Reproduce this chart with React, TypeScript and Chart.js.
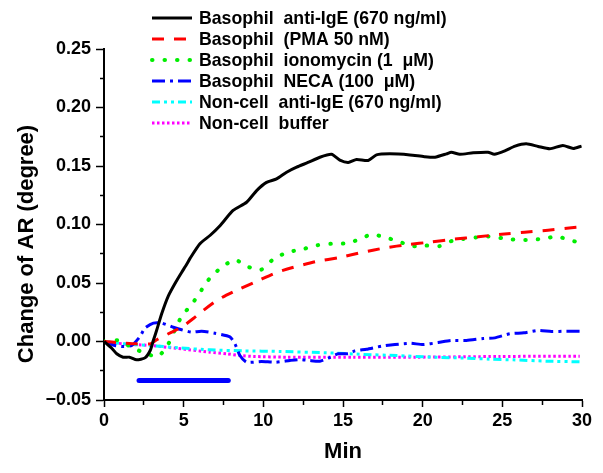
import React, { useEffect, useRef } from 'react';
import { Chart, registerables } from 'chart.js';

Chart.register(...registerables);

const FONT = '"Liberation Sans", Arial, sans-serif';

// ---- Data (minutes, degree) ----
const antiIgETime = [0, 0.5, 0.8, 1.2, 1.6, 2.05, 2.57, 2.9, 3.1, 3.3, 3.62, 4.04, 4.56, 4.87, 5.19, 5.4, 6.02, 6.65, 7.28, 8.1, 8.95, 9.58, 10.2, 10.83, 11.46, 12.09, 12.8, 13.55, 14.28, 14.8, 15.33, 15.85, 16.58, 17.1, 17.94, 19.2, 20.1, 20.77, 21.5, 21.8, 22.33, 23.17, 24.1, 24.5, 25.16, 25.8, 26.5, 27.25, 27.98, 28.8, 29.45, 29.97];
const antiIgEValue = [0, -0.006, -0.0105, -0.0134, -0.0134, -0.0157, -0.014, -0.0077, 0.001, 0.0094, 0.0237, 0.039, 0.052, 0.059, 0.066, 0.071, 0.0835, 0.0906, 0.099, 0.112, 0.119, 0.129, 0.136, 0.139, 0.1447, 0.149, 0.153, 0.1575, 0.16, 0.155, 0.153, 0.1555, 0.1547, 0.1595, 0.1604, 0.1595, 0.158, 0.1575, 0.1604, 0.1618, 0.16, 0.1613, 0.1618, 0.16, 0.163, 0.167, 0.169, 0.1667, 0.1647, 0.1675, 0.165, 0.167];

const pmaTime = [0, 1, 2, 2.9, 3.4, 4.25, 4.87, 5.71, 6.23, 7.07, 7.6, 8.53, 9.79, 10.83, 11.78, 13.34, 14.8, 16.27, 17.63, 19.1, 20.45, 21.9, 23.5, 24.95, 26.4, 27.87, 29.34, 30];
const pmaValue = [0, -0.001, -0.002, -0.002, 0.0023, 0.008, 0.0122, 0.0208, 0.0265, 0.035, 0.039, 0.045, 0.0527, 0.059, 0.063, 0.0684, 0.0718, 0.0764, 0.08, 0.0829, 0.0849, 0.0874, 0.0895, 0.0917, 0.0934, 0.0951, 0.0972, 0.098];

const ionoTime = [0, 0.9, 1.74, 2.57, 3.4, 4.04, 4.45, 4.87, 5.56, 6.13, 6.69, 7.44, 8.22, 9.05, 9.85, 10.58, 11.42, 11.71, 12.55, 13.4, 14.26, 15.1, 15.96, 16.77, 17.61, 18.49, 19.32, 20.2, 21.06, 21.9, 22.75, 23.34, 24.15, 25.0, 25.85, 26.7, 27.56, 28.4, 29.28, 29.9];
const ionoValue = [0, 0.001, -0.005, -0.01, -0.0128, -0.002, 0.01, 0.0214, 0.0328, 0.0442, 0.055, 0.064, 0.0698, 0.0638, 0.0613, 0.0698, 0.076, 0.0769, 0.0792, 0.0823, 0.0835, 0.0838, 0.0869, 0.0915, 0.0892, 0.0855, 0.0815, 0.082, 0.0815, 0.0863, 0.088, 0.0889, 0.0897, 0.0883, 0.0869, 0.0869, 0.0878, 0.0897, 0.0866, 0.084];

const necaTime = [0, 0.69, 1.21, 1.74, 2.26, 2.57, 3.1, 3.62, 4.35, 4.87, 5.5, 6.13, 6.96, 7.9, 8.22, 8.53, 8.95, 9.89, 10.79, 11.67, 12.3, 12.88, 13.55, 14.07, 14.7, 15.33, 15.75, 16.48, 17.42, 18.26, 19.2, 20.03, 20.97, 21.81, 22.75, 23.8, 24.53, 25.47, 26.35, 27.25, 28.09, 29.03, 29.9];
const necaValue = [0, -0.0034, -0.0043, -0.0034, 0.0043, 0.0114, 0.0157, 0.0157, 0.0122, 0.01, 0.008, 0.0088, 0.0071, 0.004, -0.002, -0.012, -0.0177, -0.0171, -0.0177, -0.0162, -0.0154, -0.0162, -0.0168, -0.0142, -0.0105, -0.0105, -0.008, -0.0066, -0.004, -0.0026, -0.0015, -0.0026, -0.0009, 0.0009, 0.0009, 0.0026, 0.0031, 0.0066, 0.0074, 0.0094, 0.0085, 0.0088, 0.0088];

const nonCellIgETime = [0, 1.21, 2.9, 4.66, 6.65, 8.74, 11.04, 13.97, 16.27, 18.36, 20.66, 22.75, 24.2, 25.68, 27.77, 29.86];
const nonCellIgEValue = [0, -0.002, -0.0034, -0.0054, -0.0071, -0.008, -0.0085, -0.0097, -0.011, -0.012, -0.0134, -0.0142, -0.0151, -0.0157, -0.0168, -0.0174];

const bufferTime = [0, 1.21, 2.9, 4.66, 6.65, 7.7, 8.53, 9.37, 11.46, 15.64, 19.6, 24.84, 29.86];
const bufferValue = [0, -0.002, -0.0034, -0.006, -0.0091, -0.0105, -0.012, -0.0128, -0.0134, -0.0134, -0.0134, -0.0128, -0.0125];

// stimulation bar
const barTime = [2.2, 7.8];
const barValue = [-0.0333, -0.0333];

const legendLabels = [
  'Basophil  anti-IgE (670 ng/ml)',
  'Basophil  (PMA 50 nM)',
  'Basophil  ionomycin (1  μM)',
  'Basophil  NECA (100  μM)',
  'Non-cell  anti-IgE (670 ng/ml)',
  'Non-cell  buffer',
];

const xMajorTicks = [0, 5, 10, 15, 20, 25, 30];
const xTickLabels = ['0', '5', '10', '15', '20', '25', '30'];
const yMajorTicks = [-0.05, 0, 0.05, 0.1, 0.15, 0.2, 0.25];
const yTickLabels = ['−0.05', '0.00', '0.05', '0.10', '0.15', '0.20', '0.25'];

const xTitle = 'Min';
const yTitle = 'Change of AR (degree)';

const toPoints = (t: number[], v: number[]) => t.map((x, i) => ({ x, y: v[i] }));

const findLabel = (val: number, majors: number[], labels: string[]) => {
  const idx = majors.findIndex((m) => Math.abs(m - val) < 1e-6);
  return idx >= 0 ? labels[idx] : '';
};
const isMajor = (val: number, majors: number[]) => majors.some((m) => Math.abs(m - val) < 1e-6);

const legendPlugin = {
  id: 'customLegend',
  afterDraw(chart: any) {
    const ctx = chart.ctx;
    ctx.save();
    ctx.font = `bold 17.7px ${FONT}`;
    ctx.textBaseline = 'middle';
    ctx.textAlign = 'left';
    legendLabels.forEach((label, i) => {
      const ds = chart.data.datasets[i];
      const y = 19 + i * 21;
      ctx.strokeStyle = ds.borderColor;
      ctx.lineWidth = ds.borderWidth;
      ctx.setLineDash(ds.borderDash || []);
      ctx.lineCap = ds.borderCapStyle || 'butt';
      ctx.beginPath();
      ctx.moveTo(152, y - 1);
      ctx.lineTo(192, y - 1);
      ctx.stroke();
      ctx.setLineDash([]);
      ctx.fillStyle = '#000';
      ctx.fillText(label, 199, y);
    });
    // y axis title
    ctx.save();
    ctx.translate(27, 244);
    ctx.rotate(-Math.PI / 2);
    ctx.font = `bold 22px ${FONT}`;
    ctx.textAlign = 'center';
    ctx.textBaseline = 'middle';
    ctx.fillStyle = '#000';
    ctx.fillText(yTitle, 0, 0);
    ctx.restore();
    ctx.restore();
  },
};

export default function App() {
  const canvasRef = useRef<HTMLCanvasElement | null>(null);

  useEffect(() => {
    if (!canvasRef.current) return;
    const common = { pointRadius: 0, fill: false, tension: 0.2 };
    const chart = new Chart(canvasRef.current, {
      type: 'line',
      data: {
        datasets: [
          { ...common, label: legendLabels[0], data: toPoints(antiIgETime, antiIgEValue), borderColor: '#000000', borderWidth: 3, borderDash: [] },
          { ...common, label: legendLabels[1], data: toPoints(pmaTime, pmaValue), borderColor: '#ff0000', borderWidth: 3, borderDash: [12, 10] },
          { ...common, label: legendLabels[2], data: toPoints(ionoTime, ionoValue), borderColor: '#00ee00', borderWidth: 4, borderDash: [0.5, 12], borderCapStyle: 'round' },
          { ...common, label: legendLabels[3], data: toPoints(necaTime, necaValue), borderColor: '#0000ff', borderWidth: 3, borderDash: [13, 5, 3, 5] },
          { ...common, label: legendLabels[4], data: toPoints(nonCellIgETime, nonCellIgEValue), borderColor: '#00ffff', borderWidth: 3, borderDash: [8, 4, 3, 4, 3, 4] },
          { ...common, label: legendLabels[5], data: toPoints(bufferTime, bufferValue), borderColor: '#ff00ff', borderWidth: 3, borderDash: [2.5, 2.5] },
          { ...common, label: 'stimulation', data: toPoints(barTime, barValue), borderColor: '#0000ff', borderWidth: 5, borderDash: [], borderCapStyle: 'round' },
        ],
      },
      options: {
        responsive: false,
        animation: false,
        layout: { padding: { top: 49, right: 21, left: 0, bottom: 0 } },
        plugins: { legend: { display: false }, tooltip: { enabled: false } },
        scales: {
          x: {
            type: 'linear',
            min: 0,
            max: 30,
            afterFit: (s: any) => { s.height = 73; },
            border: { display: true, color: '#000', width: 2 },
            grid: {
              display: true,
              drawOnChartArea: false,
              drawTicks: true,
              tickLength: 7,
              color: '#000',
              tickColor: '#000',
              tickWidth: 1.5,
              tickBorderDash: (ctx: any) => (ctx.tick && isMajor(ctx.tick.value, xMajorTicks) ? [] : [4, 100]),
            },
            ticks: {
              stepSize: 2.5,
              autoSkip: false,
              maxRotation: 0,
              padding: 3,
              color: '#000',
              font: { family: FONT, size: 18, weight: 'bold' },
              callback: (v: any) => findLabel(Number(v), xMajorTicks, xTickLabels),
            },
            title: {
              display: true,
              text: xTitle,
              color: '#000',
              font: { family: FONT, size: 22, weight: 'bold' },
              padding: { top: 0, bottom: 8 },
            },
          },
          y: {
            type: 'linear',
            min: -0.05,
            max: 0.25,
            afterFit: (s: any) => { s.width = 104; },
            border: { display: true, color: '#000', width: 2 },
            grid: {
              display: true,
              drawOnChartArea: false,
              drawTicks: true,
              tickLength: 8,
              color: '#000',
              tickColor: '#000',
              tickWidth: 1.5,
              tickBorderDash: (ctx: any) => (ctx.tick && isMajor(ctx.tick.value, yMajorTicks) ? [] : [0, 4, 100, 0]),
            },
            ticks: {
              stepSize: 0.025,
              autoSkip: false,
              padding: 5,
              color: '#000',
              font: { family: FONT, size: 18, weight: 'bold' },
              callback: (v: any) => findLabel(Number(v), yMajorTicks, yTickLabels),
            },
            title: { display: false },
          },
        },
      },
      plugins: [legendPlugin],
    } as any);
    return () => chart.destroy();
  }, []);

  return (
    <div style={{ position: 'fixed', left: 0, top: 0, width: 603, height: 473, background: '#fff' }}>
      <canvas ref={canvasRef} width={603} height={473} />
    </div>
  );
}
